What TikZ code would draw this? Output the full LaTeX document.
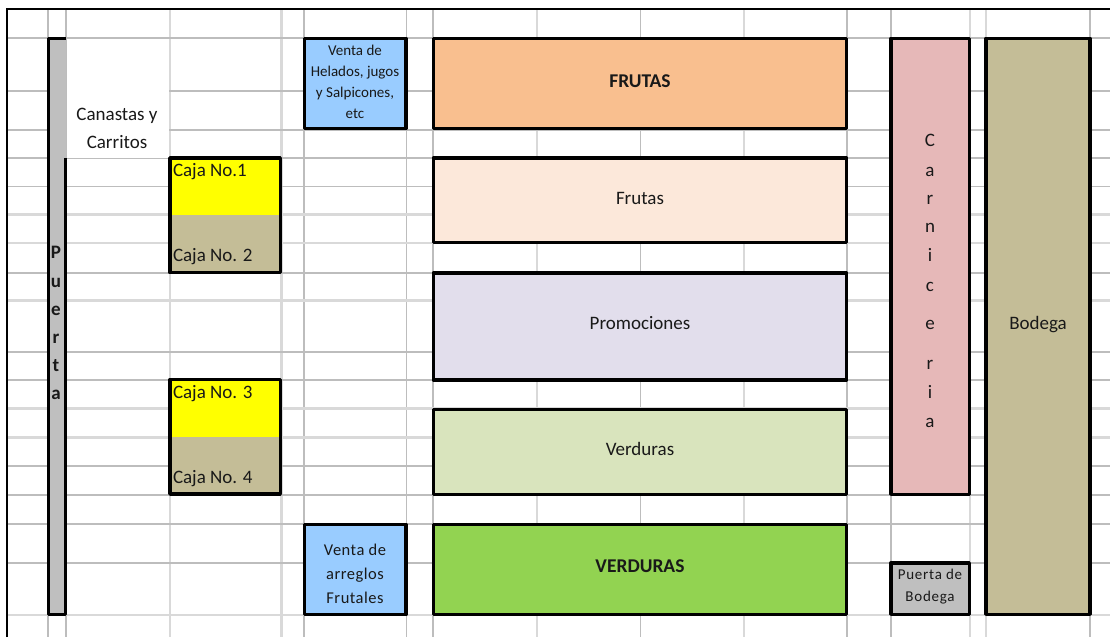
\documentclass[tikz,border=0pt]{standalone}
\usepackage{fontspec}
\setmainfont{Carlito}
\newfontfamily\spaced[LetterSpace=5]{Carlito}
\newfontfamily\spacedb[LetterSpace=3]{Carlito}
\definecolor{griddark}{HTML}{BDBDBD}
\definecolor{gridlight}{HTML}{D9D9D9}
\definecolor{cyel}{HTML}{FFFF00}
\definecolor{cblue}{HTML}{99CCFF}
\definecolor{corange}{HTML}{F9BF8F}
\definecolor{cpeach}{HTML}{FCE8DA}
\definecolor{clav}{HTML}{E2DEEC}
\definecolor{cpale}{HTML}{D9E4BD}
\definecolor{cgreen}{HTML}{92D351}
\definecolor{cpink}{HTML}{E6B8B8}
\definecolor{ctan}{HTML}{C4BD97}
\definecolor{cgray}{HTML}{BFBFBF}
\tikzset{
  x=1pt,y=-1pt,
  gd/.style={griddark,line width=1.4pt},
  gl/.style={gridlight,line width=2.2pt},
  room/.style={draw=black,line width=3.4pt,line join=round,inner sep=0pt,outer sep=0pt},
  plain/.style={inner sep=0pt,outer sep=0pt},
  txt/.style={inner sep=0pt,outer sep=0pt,anchor=base,text=black!90,font=\fontsize{19}{22}\selectfont},
  small/.style={txt,font=\fontsize{15}{21}\selectfont},
  left text/.style={txt,anchor=base west,font=\fontsize{19}{22}\selectfont},
}
\usetikzlibrary{calc}
\newcommand{\roomnode}[6]{%
  \path let \n1={#2},\n2={#3},\n3={#4},\n4={#5} in
    node[room,fill=#6,minimum width={\n3-\n1},minimum height={\n4-\n2}] (#1) at ({(\n1+\n3)/2},{(\n2+\n4)/2}) {};}
\begin{document}
\begin{tikzpicture}
\useasboundingbox (0,0) rectangle (1110,637);
\fill[white] (0,0) rectangle (1110,637);
% grid
\foreach \v in {48,66,304,406.5,433,640.5,847,891,1090} \draw[gd] (\v,9) -- (\v,637);
\foreach \v in {170,281.5,537,744,970,986} \draw[gl] (\v,9) -- (\v,637);
\foreach \h in {38,91,130,158,186.5,273,352,380,466,495,524,563} \draw[gd] (7,\h) -- (1110,\h);
\foreach \h in {214.5,243,300.5,408.5,437.5,615} \draw[gl] (7,\h) -- (1110,\h);
% merged cell
\fill[white] (67,39) rectangle (169,157.5);
% sheet border
\draw[black,line width=2.5pt] (7,637) -- (7,9) -- (1110,9);
% door
\node[plain,fill=cgray,minimum width=18pt,minimum height=577pt] (door) at (57,326.5) {};
\draw[black,line width=3.4pt,line join=round] (66,38.3) -- (48.3,38.3) -- (48.3,614.5) -- (65.5,614.5) -- (65.5,158);
% rooms
\roomnode{helados}{304.3}{38.3}{405.8}{128.5}{cblue}
\roomnode{frutasA}{433.3}{38.3}{846.4}{128.5}{corange}
\roomnode{frutasB}{433.3}{158}{846.4}{242.5}{cpeach}
\roomnode{promo}{433.3}{273}{846.4}{380}{clav}
\roomnode{verdA}{433.3}{409.5}{846.4}{494.3}{cpale}
\roomnode{verdB}{433.3}{524.3}{846.4}{614.2}{cgreen}
\roomnode{arreglos}{304.3}{524.3}{405.8}{614.5}{cblue}
\roomnode{carni}{891}{38.3}{969.3}{494.3}{cpink}
\roomnode{bodega}{986}{38.3}{1090}{614.3}{ctan}
\roomnode{pbodega}{891}{563}{969.3}{614.3}{cgray}
% cash desks
\node[plain,fill=cyel,minimum width=110.3pt,minimum height=56.5pt] (caja1) at (225.15,186.25) {};
\node[plain,fill=ctan,minimum width=110.3pt,minimum height=58.2pt] (caja2) at (225.15,243.6) {};
\draw[black,line width=3.4pt,line join=round] (caja1.north west) rectangle (caja2.south east);
\node[plain,fill=cyel,minimum width=110.3pt,minimum height=57.5pt] (caja3) at (225.15,408.25) {};
\node[plain,fill=ctan,minimum width=110.3pt,minimum height=57pt] (caja4) at (225.15,465.5) {};
\draw[black,line width=3.4pt,line join=round] (caja3.north west) rectangle (caja4.south east);
% labels
\node[txt,align=center,font=\fontsize{19}{28}\selectfont] (canastas) at (117,148) {Canastas y\\Carritos};
\node[left text] (t1) at (173,176) {Caja No.1};
\node[left text] (t2) at (173,261) {Caja No. 2};
\node[left text] (t3) at (173,398) {Caja No. 3};
\node[left text] (t4) at (173,483) {Caja No. 4};
\node[small,align=center] (tHel) at (355,118) {Venta de\\Helados, jugos\\y Salpicones,\\etc};
\node[small,align=center,font=\fontsize{16.5}{24}\selectfont\spacedb] (tArr) at (355,603) {Venta de\\arreglos\\Frutales};
\node[txt,font=\fontsize{19.5}{22}\selectfont\bfseries] (tFA) at (640,87) {FRUTAS};
\node[txt] (tFB) at (640,204) {Frutas};
\node[txt] (tPr) at (640,329) {Promociones};
\node[txt] (tVA) at (640,455) {Verduras};
\node[txt,font=\fontsize{19.5}{22}\selectfont\bfseries] (tVB) at (640,572) {VERDURAS};
\node[txt] (tBo) at (1038,329) {Bodega};
\node[small,align=center,font=\fontsize{15}{22}\selectfont\spaced] (tPB) at (930,601) {Puerta de\\Bodega};
\node[txt,align=center,font=\fontsize{19}{28}\selectfont] (tCa) at (930,427)
  {C\\[2pt]a\\r\\n\\[1pt]i\\[2pt]c\\[10pt]e\\[12pt]r\\[1pt]i\\[1pt]a};
\node[txt,align=center,font=\fontsize{19}{28}\selectfont\bfseries] (tPu) at (56,399)
  {P\\[1pt]u\\e\\r\\t\\a};
\end{tikzpicture}
\end{document}
